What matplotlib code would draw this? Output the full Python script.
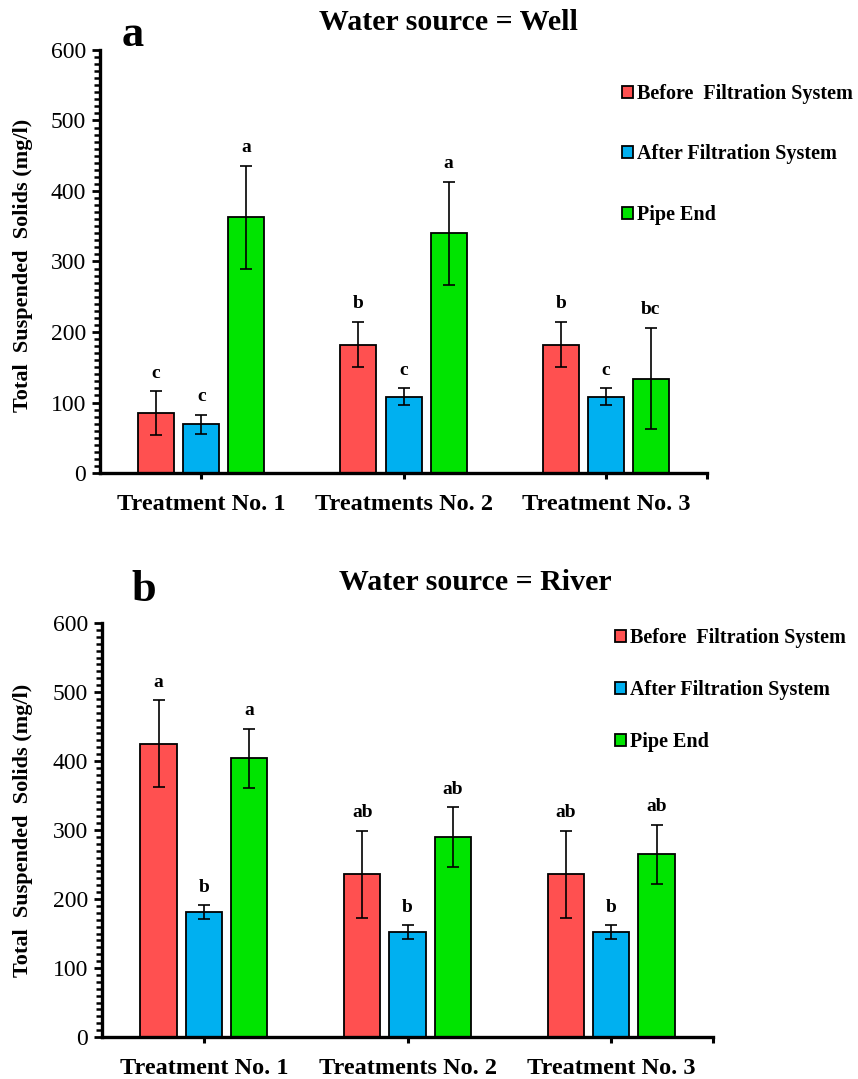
import matplotlib
matplotlib.use("Agg")
import matplotlib.pyplot as plt
import numpy as np
from matplotlib.ticker import MultipleLocator

plt.rcParams['font.family'] = ['Liberation Serif', 'DejaVu Serif']

treatments = ["Treatment No. 1", "Treatments No. 2", "Treatment No. 3"]
series_names = ["Before  Filtration System", "After Filtration System", "Pipe End"]
colors = ["#FF5050", "#00B0F0", "#00E400"]

# panel a: well
well_before = [85, 182, 182]
well_before_err = [31, 32, 32]
well_after = [69, 108, 108]
well_after_err = [13, 12, 12]
well_pipe = [363, 340, 134]
well_pipe_err = [73, 73, 72]
well_before_letters = ["c", "b", "b"]
well_after_letters = ["c", "c", "c"]
well_pipe_letters = ["a", "a", "bc"]

# panel b: river
river_before = [425, 236, 236]
river_before_err = [63, 63, 63]
river_after = [181, 152, 152]
river_after_err = [10, 10, 10]
river_pipe = [404, 290, 265]
river_pipe_err = [43, 43, 43]
river_before_letters = ["a", "ab", "ab"]
river_after_letters = ["b", "b", "b"]
river_pipe_letters = ["a", "ab", "ab"]


def draw_panel(ax, means, errs, letters, legend_anchor, labelspacing):
    x = np.arange(len(treatments))
    width = 0.178
    step = 0.223
    for i in range(3):
        xs = x + (i - 1) * step
        ax.bar(xs, means[i], width, color=colors[i], edgecolor='black',
               linewidth=1.3, label=series_names[i], zorder=2)
        ax.errorbar(xs, means[i], yerr=errs[i], fmt='none', ecolor='black',
                    elinewidth=1.2, capsize=4.5, capthick=1.2, zorder=3)
        for xi, m, e, lab in zip(xs, means[i], errs[i], letters[i]):
            ax.annotate(lab, (xi, m + e), xytext=(0, 7), textcoords='offset points',
                        ha='center', va='bottom', fontsize=14, fontweight='bold')

    ax.set_xlim(-0.5, 2.5)
    ax.set_ylim(0, 600)
    ax.set_xticks(x)
    ax.set_xticklabels(treatments, fontsize=17.5, fontweight='bold')
    ax.set_xticks([2.5], minor=True)
    ax.yaxis.set_major_locator(MultipleLocator(100))
    ax.yaxis.set_minor_locator(MultipleLocator(10))
    ax.tick_params(axis='y', which='major', direction='out', length=6, width=2,
                   labelsize=17, pad=4)
    ax.tick_params(axis='y', which='minor', direction='out', length=4, width=1.8)
    ax.tick_params(axis='x', which='both', direction='out', length=4, width=2.2, pad=11)
    for s in ['top', 'right']:
        ax.spines[s].set_visible(False)
    for s in ['left', 'bottom']:
        ax.spines[s].set_linewidth(2.4)

    ax.legend(loc='upper left', bbox_to_anchor=legend_anchor,
              bbox_transform=ax.figure.transFigure, frameon=False,
              prop={'size': 14.5, 'weight': 'bold'}, handlelength=0.55,
              handleheight=0.55, handletextpad=0.2, labelspacing=labelspacing,
              borderpad=0, borderaxespad=0)


fig = plt.figure(figsize=(8.58, 10.79), dpi=100)

ax1 = fig.add_axes([0.1166, 0.5616, 0.7074, 0.3921])
draw_panel(ax1,
           [well_before, well_after, well_pipe],
           [well_before_err, well_after_err, well_pipe_err],
           [well_before_letters, well_after_letters, well_pipe_letters],
           (0.725, 0.922), 2.0)

ax2 = fig.add_axes([0.119, 0.0389, 0.712, 0.3837])
draw_panel(ax2,
           [river_before, river_after, river_pipe],
           [river_before_err, river_after_err, river_pipe_err],
           [river_before_letters, river_after_letters, river_pipe_letters],
           (0.717, 0.418), 1.6)

fig.text(0.523, 0.979, "Water source = Well", ha='center', va='center',
         fontsize=21.5, fontweight='bold')
fig.text(0.554, 0.4606, "Water source = River", ha='center', va='center',
         fontsize=21.5, fontweight='bold')
fig.text(0.155, 0.968, "a", ha='center', va='center', fontsize=32, fontweight='bold')
fig.text(0.168, 0.453, "b", ha='center', va='center', fontsize=32, fontweight='bold')

fig.text(0.027, 0.754, "Total  Suspended  Solids (mg/l)", rotation=90,
         ha='center', va='center', fontsize=16, fontweight='bold')
fig.text(0.027, 0.2308, "Total  Suspended  Solids (mg/l)", rotation=90,
         ha='center', va='center', fontsize=16, fontweight='bold')

fig.savefig("out.png", dpi=100)
